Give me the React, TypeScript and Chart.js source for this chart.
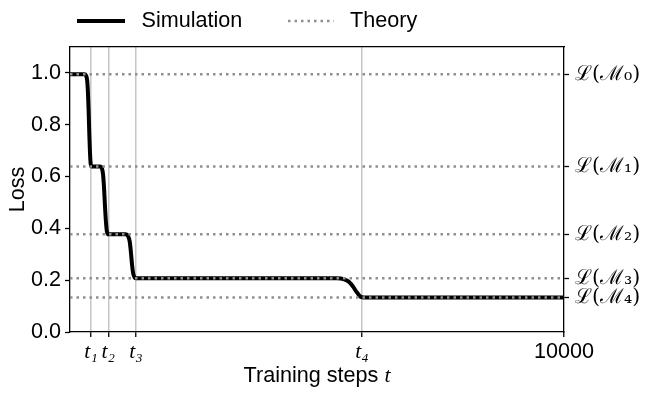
import React, { useEffect, useRef } from "react";
import { Chart, registerables } from "chart.js";

Chart.register(...registerables);

// ---- Data ----
const X_TICK_VALUES = [425, 775, 1336, 5911, 10000];
const X_TICK_LABELS = ["t₁", "t₂", "t₃", "t₄", "10000"];

const Y_TICK_VALUES = [0, 0.2, 0.4, 0.6, 0.8, 1.0];

const THEORY_LEVELS = [0.995, 0.639, 0.377, 0.207, 0.133];
const THEORY_LABELS = ["ℒ(ℳ₀)", "ℒ(ℳ₁)", "ℒ(ℳ₂)", "ℒ(ℳ₃)", "ℒ(ℳ₄)"];

const SIM_STEPS = [
  0, 290, 325, 348, 362, 376, 390, 405, 418, 430,
  605, 645, 668, 688, 707, 726, 745, 765, 780,
  1130, 1175, 1208, 1232, 1256, 1280, 1310, 1340,
  5400, 5550, 5650, 5730, 5800, 5860, 5910, 6000, 10000,
];
const SIM_LOSS = [
  0.995, 0.995, 0.99, 0.97, 0.93, 0.86, 0.77, 0.69, 0.65, 0.639,
  0.639, 0.632, 0.61, 0.56, 0.49, 0.43, 0.39, 0.378, 0.377,
  0.377, 0.37, 0.35, 0.31, 0.26, 0.225, 0.21, 0.207,
  0.207, 0.203, 0.193, 0.175, 0.155, 0.14, 0.134, 0.133, 0.133,
];

const X_MAX = 10000;
const Y_MAX = 1.1;

const SANS = "'Liberation Sans', Arial, sans-serif";
const SERIF = "'Liberation Serif', 'DejaVu Serif', serif";
const MATH = "'DejaVu Serif', 'Liberation Serif', serif";
const FS = 21.6;

const overlayPlugin = {
  id: "overlay",
  afterDraw(chart: any) {
    const ctx = chart.ctx as CanvasRenderingContext2D;
    const area = chart.chartArea;
    ctx.save();
    // legend
    const ly = 21;
    ctx.setLineDash([]);
    ctx.strokeStyle = "#000";
    ctx.lineWidth = 4;
    ctx.beginPath();
    ctx.moveTo(77, ly);
    ctx.lineTo(125, ly);
    ctx.stroke();
    ctx.setLineDash([2.5, 4]);
    ctx.strokeStyle = "#8f8f8f";
    ctx.lineWidth = 2.5;
    ctx.beginPath();
    ctx.moveTo(288, ly);
    ctx.lineTo(334, ly);
    ctx.stroke();
    ctx.setLineDash([]);
    ctx.fillStyle = "#000";
    ctx.font = `${FS}px ${SANS}`;
    ctx.textBaseline = "middle";
    ctx.textAlign = "left";
    ctx.fillText("Simulation", 141.5, ly);
    ctx.fillText("Theory", 350, ly);

    // x-axis title
    const part1 = "Training steps ";
    const part2 = "t";
    ctx.font = `${FS}px ${SANS}`;
    const w1 = ctx.measureText(part1).width;
    ctx.font = `italic ${FS}px ${SERIF}`;
    const w2 = ctx.measureText(part2).width;
    const cx = (area.left + area.right) / 2;
    const x0 = cx - (w1 + w2) / 2;
    const ty = 376;
    ctx.font = `${FS}px ${SANS}`;
    ctx.fillText(part1, x0, ty);
    ctx.font = `italic ${FS}px ${SERIF}`;
    ctx.fillText(part2, x0 + w1, ty);
    ctx.restore();
  },
};

export default function App() {
  const canvasRef = useRef<HTMLCanvasElement | null>(null);

  useEffect(() => {
    const canvas = canvasRef.current;
    if (!canvas) return;

    const theoryDatasets = THEORY_LEVELS.map((lv, i) => ({
      label: "Theory " + i,
      data: [
        { x: 0, y: lv },
        { x: X_MAX, y: lv },
      ],
      borderColor: "#8f8f8f",
      borderWidth: 2.5,
      borderDash: [2.5, 4],
      pointRadius: 0,
      fill: false,
      order: 0,
    }));

    const simDataset = {
      label: "Simulation",
      data: SIM_STEPS.map((s, i) => ({ x: s, y: SIM_LOSS[i] })),
      borderColor: "#000",
      borderWidth: 4,
      pointRadius: 0,
      fill: false,
      cubicInterpolationMode: "monotone" as const,
      order: 1,
    };

    const chart = new Chart(canvas, {
      type: "line",
      data: { datasets: [...theoryDatasets, simDataset] as any },
      options: {
        animation: false,
        responsive: false,
        maintainAspectRatio: false,
        layout: { padding: { top: 47, left: 0, right: 0, bottom: 0 } },
        plugins: {
          legend: { display: false },
          tooltip: { enabled: false },
        },
        scales: {
          x: {
            type: "linear",
            position: "bottom",
            min: 0,
            max: X_MAX,
            afterBuildTicks: (s: any) => {
              s.ticks = X_TICK_VALUES.map((v) => ({ value: v }));
            },
            afterFit: (s: any) => {
              s.height = 67;
            },
            ticks: {
              autoSkip: false,
              maxRotation: 0,
              minRotation: 0,
              padding: 2,
              color: "#000",
              callback: (_v: any, i: number) => X_TICK_LABELS[i],
              font: (c: any) =>
                c.index < 4
                  ? { family: SERIF, style: "italic", size: FS }
                  : { family: SANS, size: FS },
            },
            grid: {
              drawOnChartArea: true,
              drawTicks: true,
              tickLength: 5,
              tickColor: "#000",
              tickWidth: 1.3,
              lineWidth: 1.5,
              color: (c: any) =>
                c.tick && c.tick.value < X_MAX ? "#c6c6c6" : "rgba(0,0,0,0)",
            },
            border: { display: true, color: "#000", width: 1.3 },
          },
          x2: {
            type: "linear",
            position: "top",
            min: 0,
            max: X_MAX,
            ticks: { display: false },
            grid: { display: false, drawTicks: false },
            border: { display: true, color: "#000", width: 1.3 },
            afterFit: (s: any) => {
              s.height = 0;
            },
          },
          y: {
            type: "linear",
            position: "left",
            min: 0,
            max: Y_MAX,
            afterBuildTicks: (s: any) => {
              s.ticks = Y_TICK_VALUES.map((v) => ({ value: v }));
            },
            afterFit: (s: any) => {
              s.width = 70;
            },
            ticks: {
              padding: 4,
              color: "#000",
              font: { family: SANS, size: FS },
              callback: (v: any) => Number(v).toFixed(1),
            },
            grid: {
              drawOnChartArea: false,
              drawTicks: true,
              tickLength: 5,
              tickColor: "#000",
              tickWidth: 1.3,
            },
            border: { display: true, color: "#000", width: 1.3 },
            title: {
              display: true,
              text: "Loss",
              color: "#000",
              font: { family: SANS, size: FS },
              padding: { top: 5, bottom: 0 },
            },
          },
          yR: {
            type: "linear",
            position: "right",
            min: 0,
            max: Y_MAX,
            afterBuildTicks: (s: any) => {
              s.ticks = THEORY_LEVELS.map((v) => ({ value: v }));
            },
            afterFit: (s: any) => {
              s.width = 84;
            },
            ticks: {
              autoSkip: false,
              padding: 6,
              color: "#000",
              font: { family: MATH, size: 20.5 },
              callback: (_v: any, i: number) => THEORY_LABELS[i],
            },
            grid: {
              drawOnChartArea: false,
              drawTicks: true,
              tickLength: 5,
              tickColor: "#000",
              tickWidth: 1.3,
            },
            border: { display: true, color: "#000", width: 1.3 },
          },
        },
      } as any,
      plugins: [overlayPlugin],
    });

    return () => {
      chart.destroy();
    };
  }, []);

  return (
    <div
      style={{
        position: "fixed",
        left: 0,
        top: 0,
        width: 648,
        height: 399,
        background: "#fff",
      }}
    >
      <canvas
        ref={canvasRef}
        width={648}
        height={399}
        style={{ display: "block", width: 648, height: 399 }}
      />
    </div>
  );
}
